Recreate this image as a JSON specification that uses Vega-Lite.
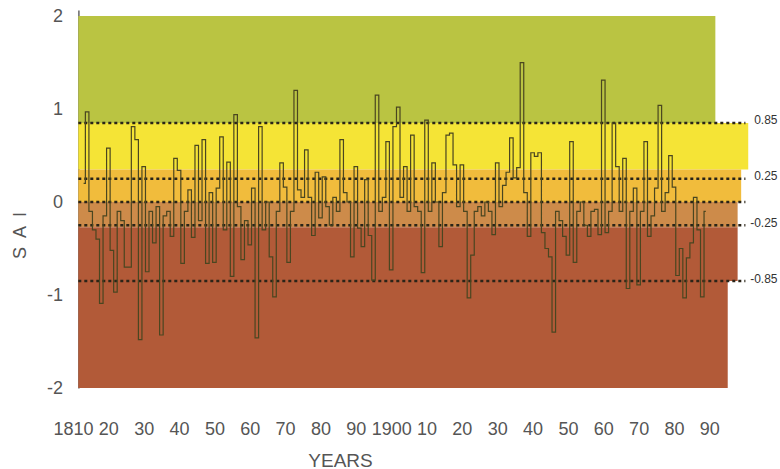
{
  "$schema": "https://vega.github.io/schema/vega-lite/v6.json",
  "autosize": {"type": "none"},
  "padding": {"left": 73, "top": 10, "right": 30, "bottom": 81},
  "width": 677,
  "height": 378,
  "background": "white",
  "config": {"view": {"stroke": null}, "font": "Liberation Sans"},
  "datasets": {
    "bands": [
      {"band": "wet", "x1": 1811.5, "x2": 1991.7, "y1": 0.85, "y2": 2.0},
      {"band": "moist", "x1": 1811.5, "x2": 2001.0, "y1": 0.35, "y2": 0.85},
      {"band": "normalplus", "x1": 1811.5, "x2": 1999.0, "y1": 0.0, "y2": 0.35},
      {"band": "normalminus", "x1": 1811.5, "x2": 1998.0, "y1": -0.27, "y2": 0.0},
      {"band": "dry", "x1": 1811.5, "x2": 1998.0, "y1": -0.85, "y2": -0.27},
      {"band": "dry", "x1": 1811.5, "x2": 1995.2, "y1": -2.0, "y2": -0.85}
    ],
    "thresholds": [{"v": 0.85}, {"v": 0.25}, {"v": 0}, {"v": -0.25}, {"v": -0.85}],
    "sai": [
      {"year": 1813, "sai": 0.2}, {"year": 1814, "sai": 0.97}, {"year": 1815, "sai": -0.1}, {"year": 1816, "sai": -0.3},
      {"year": 1817, "sai": -0.4}, {"year": 1818, "sai": -1.09}, {"year": 1819, "sai": -0.15}, {"year": 1820, "sai": 0.58},
      {"year": 1821, "sai": -0.52}, {"year": 1822, "sai": -0.97}, {"year": 1823, "sai": -0.1}, {"year": 1824, "sai": -0.2},
      {"year": 1825, "sai": -0.7}, {"year": 1826, "sai": -0.7}, {"year": 1827, "sai": 0.81}, {"year": 1828, "sai": 0.67},
      {"year": 1829, "sai": -1.48}, {"year": 1830, "sai": 0.38}, {"year": 1831, "sai": -0.75}, {"year": 1832, "sai": -0.1},
      {"year": 1833, "sai": -0.44}, {"year": 1834, "sai": -0.05}, {"year": 1835, "sai": -1.43}, {"year": 1836, "sai": -0.15},
      {"year": 1837, "sai": -0.1}, {"year": 1838, "sai": -0.37}, {"year": 1839, "sai": 0.47}, {"year": 1840, "sai": 0.34},
      {"year": 1841, "sai": -0.66}, {"year": 1842, "sai": -0.1}, {"year": 1843, "sai": 0.13}, {"year": 1844, "sai": -0.38},
      {"year": 1845, "sai": 0.61}, {"year": 1846, "sai": -0.2}, {"year": 1847, "sai": 0.67}, {"year": 1848, "sai": -0.66},
      {"year": 1849, "sai": 0.1}, {"year": 1850, "sai": -0.65}, {"year": 1851, "sai": 0.15}, {"year": 1852, "sai": 0.7},
      {"year": 1853, "sai": -0.3}, {"year": 1854, "sai": 0.43}, {"year": 1855, "sai": -0.8}, {"year": 1856, "sai": 0.94},
      {"year": 1857, "sai": -0.05}, {"year": 1858, "sai": -0.62}, {"year": 1859, "sai": -0.2}, {"year": 1860, "sai": -0.46},
      {"year": 1861, "sai": 0.15}, {"year": 1862, "sai": -1.46}, {"year": 1863, "sai": 0.81}, {"year": 1864, "sai": -0.3},
      {"year": 1865, "sai": 0.0}, {"year": 1866, "sai": -0.59}, {"year": 1867, "sai": -1.02}, {"year": 1868, "sai": -0.1},
      {"year": 1869, "sai": 0.42}, {"year": 1870, "sai": 0.16}, {"year": 1871, "sai": -0.65}, {"year": 1872, "sai": -0.1},
      {"year": 1873, "sai": 1.2}, {"year": 1874, "sai": 0.13}, {"year": 1875, "sai": 0.05}, {"year": 1876, "sai": 0.56},
      {"year": 1877, "sai": 0.05}, {"year": 1878, "sai": -0.36}, {"year": 1879, "sai": 0.32}, {"year": 1880, "sai": -0.17},
      {"year": 1881, "sai": 0.27}, {"year": 1882, "sai": -0.05}, {"year": 1883, "sai": -0.25}, {"year": 1884, "sai": 0.05},
      {"year": 1885, "sai": -0.1}, {"year": 1886, "sai": 0.67}, {"year": 1887, "sai": 0.1}, {"year": 1888, "sai": 0.0},
      {"year": 1889, "sai": -0.59}, {"year": 1890, "sai": 0.38}, {"year": 1891, "sai": -0.28}, {"year": 1892, "sai": -0.48},
      {"year": 1893, "sai": 0.24}, {"year": 1894, "sai": -0.36}, {"year": 1895, "sai": -0.84}, {"year": 1896, "sai": 1.15},
      {"year": 1897, "sai": -0.1}, {"year": 1898, "sai": 0.05}, {"year": 1899, "sai": 0.65}, {"year": 1900, "sai": -0.73},
      {"year": 1901, "sai": 0.81}, {"year": 1902, "sai": 1.02}, {"year": 1903, "sai": 0.05}, {"year": 1904, "sai": 0.38},
      {"year": 1905, "sai": -0.1}, {"year": 1906, "sai": 0.72}, {"year": 1907, "sai": -0.05}, {"year": 1908, "sai": -0.1},
      {"year": 1909, "sai": -0.76}, {"year": 1910, "sai": 0.88}, {"year": 1911, "sai": -0.1}, {"year": 1912, "sai": 0.42},
      {"year": 1913, "sai": 0.0}, {"year": 1914, "sai": -0.48}, {"year": 1915, "sai": 0.1}, {"year": 1916, "sai": 0.72},
      {"year": 1917, "sai": 0.74}, {"year": 1918, "sai": 0.4}, {"year": 1919, "sai": -0.05}, {"year": 1920, "sai": 0.4},
      {"year": 1921, "sai": -0.1}, {"year": 1922, "sai": -1.03}, {"year": 1923, "sai": -0.57}, {"year": 1924, "sai": -0.1},
      {"year": 1925, "sai": -0.05}, {"year": 1926, "sai": -0.15}, {"year": 1927, "sai": 0.0}, {"year": 1928, "sai": -0.1},
      {"year": 1929, "sai": -0.35}, {"year": 1930, "sai": 0.42}, {"year": 1931, "sai": -0.05}, {"year": 1932, "sai": 0.18},
      {"year": 1933, "sai": 0.32}, {"year": 1934, "sai": 0.69}, {"year": 1935, "sai": 0.26}, {"year": 1936, "sai": 0.37},
      {"year": 1937, "sai": 1.5}, {"year": 1938, "sai": 0.1}, {"year": 1939, "sai": -0.37}, {"year": 1940, "sai": 0.53},
      {"year": 1941, "sai": 0.49}, {"year": 1942, "sai": 0.53}, {"year": 1943, "sai": -0.33}, {"year": 1944, "sai": -0.5},
      {"year": 1945, "sai": -0.59}, {"year": 1946, "sai": -1.4}, {"year": 1947, "sai": -0.1}, {"year": 1948, "sai": -0.2},
      {"year": 1949, "sai": -0.37}, {"year": 1950, "sai": -0.57}, {"year": 1951, "sai": 0.65}, {"year": 1952, "sai": -0.65},
      {"year": 1953, "sai": -0.1}, {"year": 1954, "sai": 0.0}, {"year": 1955, "sai": -0.25}, {"year": 1956, "sai": -0.37},
      {"year": 1957, "sai": -0.1}, {"year": 1958, "sai": -0.08}, {"year": 1959, "sai": -0.35}, {"year": 1960, "sai": 1.31},
      {"year": 1961, "sai": -0.33}, {"year": 1962, "sai": -0.1}, {"year": 1963, "sai": 0.85}, {"year": 1964, "sai": 0.38},
      {"year": 1965, "sai": -0.1}, {"year": 1966, "sai": 0.47}, {"year": 1967, "sai": -0.93}, {"year": 1968, "sai": -0.1},
      {"year": 1969, "sai": 0.15}, {"year": 1970, "sai": -0.89}, {"year": 1971, "sai": -0.1}, {"year": 1972, "sai": 0.65},
      {"year": 1973, "sai": -0.37}, {"year": 1974, "sai": -0.15}, {"year": 1975, "sai": 0.15}, {"year": 1976, "sai": 1.04},
      {"year": 1977, "sai": -0.1}, {"year": 1978, "sai": 0.1}, {"year": 1979, "sai": 0.5}, {"year": 1980, "sai": 0.16},
      {"year": 1981, "sai": -0.79}, {"year": 1982, "sai": -0.5}, {"year": 1983, "sai": -1.03}, {"year": 1984, "sai": -0.6},
      {"year": 1985, "sai": -0.44}, {"year": 1986, "sai": 0.05}, {"year": 1987, "sai": -0.3}, {"year": 1988, "sai": -1.02},
      {"year": 1989, "sai": -0.1}
    ]
  },
  "layer": [
    {
      "data": {"name": "bands"},
      "mark": {"type": "rect"},
      "encoding": {
        "x": {"field": "x1", "type": "quantitative", "scale": {"domain": [1810, 2001.5], "nice": false, "zero": false},
          "title": "YEARS",
          "axis": {"values": [1810, 1820, 1830, 1840, 1850, 1860, 1870, 1880, 1890, 1900, 1910, 1920, 1930, 1940, 1950, 1960, 1970, 1980, 1990],
            "tickCount": 40,
            "labelExpr": "(datum.value == 1810 || datum.value == 1900) ? toString(datum.value) : slice(toString(datum.value), 2)",
            "domain": false, "ticks": false, "grid": false, "labelFontSize": 18, "labelColor": "#555555", "labelPadding": 32,
            "labelFlush": false, "labelOverlap": false, "labelBound": false,
            "titleFontSize": 19, "titleFontWeight": "normal", "titleColor": "#555555", "titleX": 267, "titleY": 78, "titleBaseline": "alphabetic", "titleAlign": "center"}},
        "x2": {"field": "x2"},
        "y": {"field": "y1", "type": "quantitative", "scale": {"domain": [-2, 2.065], "nice": false, "zero": false}, "axis": null},
        "y2": {"field": "y2"},
        "color": {"field": "band", "type": "nominal", "legend": null,
          "scale": {"domain": ["wet", "moist", "normalplus", "normalminus", "dry"], "range": ["#BAC442", "#F5E436", "#F1BC3C", "#CD8B4A", "#B25A38"]}}
      }
    },
    {
      "data": {"name": "thresholds"},
      "mark": {"type": "rule", "strokeDash": [3, 3], "strokeWidth": 2.5, "color": "#2a2418"},
      "encoding": {
        "x": {"datum": 1811.5, "type": "quantitative"},
        "x2": {"datum": 2000.2},
        "y": {"field": "v", "type": "quantitative",
          "axis": {"orient": "right", "values": [0.85, 0.25, -0.25, -0.85], "tickCount": 10, "labelExpr": "toString(datum.value)",
            "domain": false, "ticks": false, "grid": false, "title": null, "labelFontSize": 12, "labelColor": "#333333",
            "labelAlign": "right", "labelPadding": 27, "labelOffset": -3, "labelFlush": false}}
      }
    },
    {
      "data": {"name": "sai"},
      "mark": {"type": "line", "interpolate": "step", "color": "#4a4620", "strokeWidth": 1.2},
      "encoding": {
        "x": {"field": "year", "type": "quantitative", "title": "YEARS",
          "axis": {"values": [1810, 1820, 1830, 1840, 1850, 1860, 1870, 1880, 1890, 1900, 1910, 1920, 1930, 1940, 1950, 1960, 1970, 1980, 1990],
            "tickCount": 40,
            "labelExpr": "(datum.value == 1810 || datum.value == 1900) ? toString(datum.value) : slice(toString(datum.value), 2)",
            "domain": false, "ticks": false, "grid": false, "labelFontSize": 18, "labelColor": "#555555", "labelPadding": 32,
            "labelFlush": false, "labelOverlap": false, "labelBound": false,
            "titleFontSize": 19, "titleFontWeight": "normal", "titleColor": "#555555", "titleX": 267, "titleY": 78, "titleBaseline": "alphabetic", "titleAlign": "center"}},
        "y": {"field": "sai", "type": "quantitative",
          "axis": {"orient": "left", "values": [2, 1, 0, -1, -2], "tickCount": 10, "labelExpr": "toString(datum.value)",
            "offset": -5.4, "domain": true, "domainColor": "#666666", "domainWidth": 1.5, "ticks": false, "grid": false,
            "labelFontSize": 18, "labelColor": "#555555", "labelPadding": 16, "labelFlush": false,
            "title": "S\u2002A\u2002I", "titleFontSize": 18, "titleFontWeight": "normal", "titleColor": "#555555",
            "titleX": -58, "titleY": 225, "titleAngle": -90, "titleAlign": "center", "titleBaseline": "middle"}}
      }
    }
  ],
  "resolve": {"axis": {"y": "independent"}}
}
